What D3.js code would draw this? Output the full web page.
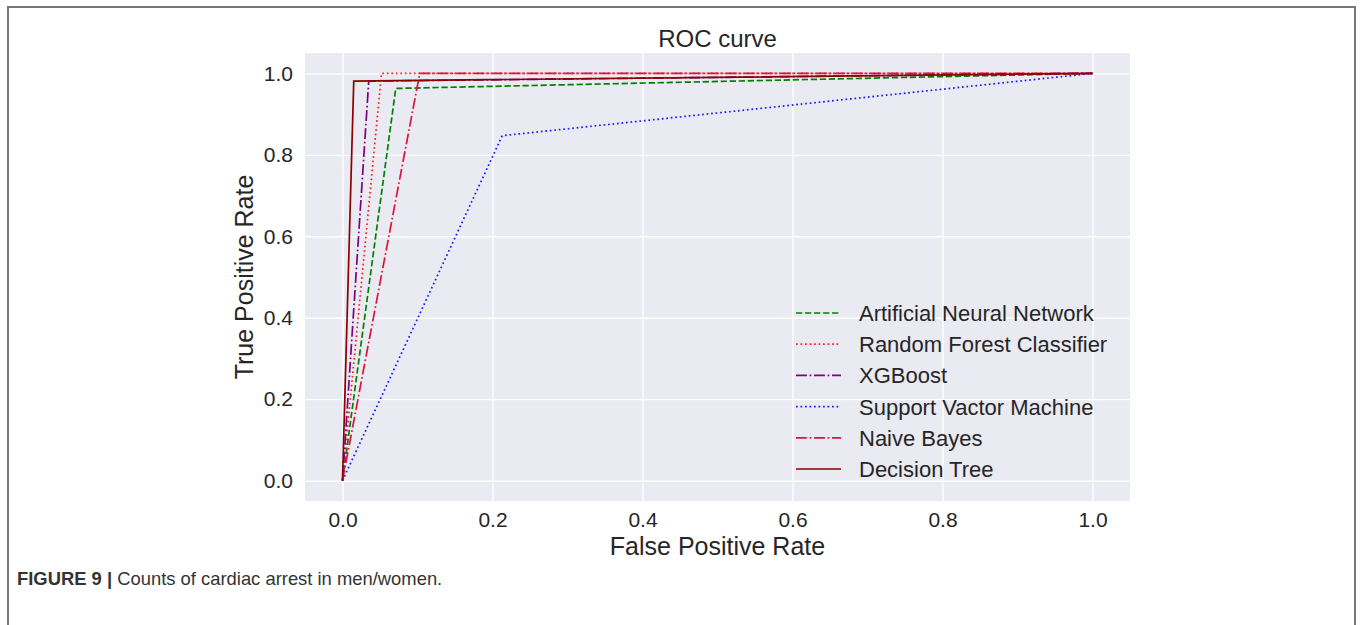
<!DOCTYPE html>
<html>
<head>
<meta charset="utf-8">
<script src="https://cdn.jsdelivr.net/npm/d3@7"></script>
<style>
  html, body { margin: 0; padding: 0; background: #fff; }
  svg { display: block; font-family: "Liberation Sans", Arial, sans-serif; }
</style>
</head>
<body>
<svg id="fig" width="1360" height="625"></svg>
<script>
// ROC points (false positive rate / true positive rate) per classifier
const annFpr = [0, 0.071, 1];
const annTpr = [0, 0.963, 1];
const rfFpr = [0, 0.052, 1];
const rfTpr = [0, 1.0, 1];
const xgbFpr = [0, 0.035, 1];
const xgbTpr = [0, 0.981, 1];
const svmFpr = [0, 0.213, 1];
const svmTpr = [0, 0.847, 1];
const nbFpr = [0, 0.103, 1];
const nbTpr = [0, 1.0, 1];
const dtFpr = [0, 0.015, 1];
const dtTpr = [0, 0.981, 1];

const modelNames = ["Artificial Neural Network", "Random Forest Classifier", "XGBoost",
                    "Support Vactor Machine", "Naive Bayes", "Decision Tree"];
const xTicks = [0, 0.2, 0.4, 0.6, 0.8, 1.0];
const yTicks = [0, 0.2, 0.4, 0.6, 0.8, 1.0];

const lw = 1.7;
const styles = [
  { color: "#008000", dash: [3.7 * lw, 1.6 * lw] },
  { color: "#ff2020", dash: [1 * lw, 1.65 * lw] },
  { color: "#800080", dash: [6.4 * lw, 1.6 * lw, 1 * lw, 1.6 * lw] },
  { color: "#1a1aff", dash: [1 * lw, 1.65 * lw] },
  { color: "#dc143c", dash: [6.4 * lw, 1.6 * lw, 1 * lw, 1.6 * lw] },
  { color: "#8b0000", dash: null }
];

const series = [
  [annFpr, annTpr], [rfFpr, rfTpr], [xgbFpr, xgbTpr],
  [svmFpr, svmTpr], [nbFpr, nbTpr], [dtFpr, dtTpr]
].map((s, i) => ({ name: modelNames[i], pts: s[0].map((f, j) => [f, s[1][j]]), style: styles[i] }));

const svg = d3.select("#fig");

// figure frame
svg.append("path")
  .attr("d", "M8,640 L8,7 L1355,7 L1355,640")
  .attr("fill", "none").attr("stroke", "#777").attr("stroke-width", 2);

const plot = { left: 305, right: 1130, top: 53, bottom: 501 };
const x = d3.scaleLinear().domain([-0.05, 1.05]).range([plot.left, plot.right]);
const y = d3.scaleLinear().domain([-0.05, 1.05]).range([plot.bottom, plot.top]);

// axes background
svg.append("rect")
  .attr("x", plot.left).attr("y", plot.top)
  .attr("width", plot.right - plot.left).attr("height", plot.bottom - plot.top)
  .attr("fill", "#eaeaf2");

// grid from axis ticks
const gx = svg.append("g").attr("transform", `translate(0,${plot.bottom})`)
  .call(d3.axisBottom(x).tickValues(xTicks).tickSize(-(plot.bottom - plot.top)).tickFormat(d3.format(".1f")).tickPadding(11));
const gy = svg.append("g").attr("transform", `translate(${plot.left},0)`)
  .call(d3.axisLeft(y).tickValues(yTicks).tickSize(-(plot.right - plot.left)).tickFormat(d3.format(".1f")).tickPadding(12));
[gx, gy].forEach(g => {
  g.select(".domain").remove();
  g.selectAll(".tick line").attr("stroke", "#ffffff").attr("stroke-width", 1.3);
  g.selectAll(".tick text").attr("fill", "#262626").style("font-size", "21px").style("font-family", "'Liberation Sans', Arial, sans-serif");
});

// curves
const line = d3.line().x(d => x(d[0])).y(d => y(d[1]));
series.forEach(s => {
  svg.append("path")
    .attr("d", line(s.pts))
    .attr("fill", "none")
    .attr("stroke", s.style.color)
    .attr("stroke-width", lw)
    .attr("stroke-dasharray", s.style.dash ? s.style.dash.join(",") : null);
});

// title and axis labels
svg.append("text").attr("x", (plot.left + plot.right) / 2).attr("y", 47)
  .attr("text-anchor", "middle").attr("fill", "#262626").style("font-size", "24px").text("ROC curve");
svg.append("text").attr("x", (plot.left + plot.right) / 2).attr("y", 555)
  .attr("text-anchor", "middle").attr("fill", "#262626").style("font-size", "25px").text("False Positive Rate");
svg.append("text").attr("transform", `translate(253,${(plot.top + plot.bottom) / 2}) rotate(-90)`)
  .attr("text-anchor", "middle").attr("fill", "#262626").style("font-size", "25px").text("True Positive Rate");

// legend
const leg = svg.append("g").attr("transform", "translate(796,313)");
series.forEach((s, i) => {
  const row = leg.append("g").attr("transform", `translate(0,${i * 31.2})`);
  row.append("line").attr("x1", 0).attr("x2", 45).attr("y1", 0).attr("y2", 0)
    .attr("stroke", s.style.color).attr("stroke-width", lw)
    .attr("stroke-dasharray", s.style.dash ? s.style.dash.join(",") : null);
  row.append("text").attr("x", 63).attr("y", 8).attr("fill", "#262626")
    .style("font-size", "22px").text(s.name);
});

// caption
const cap = svg.append("text").attr("x", 17).attr("y", 585).attr("fill", "#333").style("font-size", "18.4px");
cap.append("tspan").style("font-weight", "bold").text("FIGURE 9 | ");
cap.append("tspan").text("Counts of cardiac arrest in men/women.");
</script>
</body>
</html>
